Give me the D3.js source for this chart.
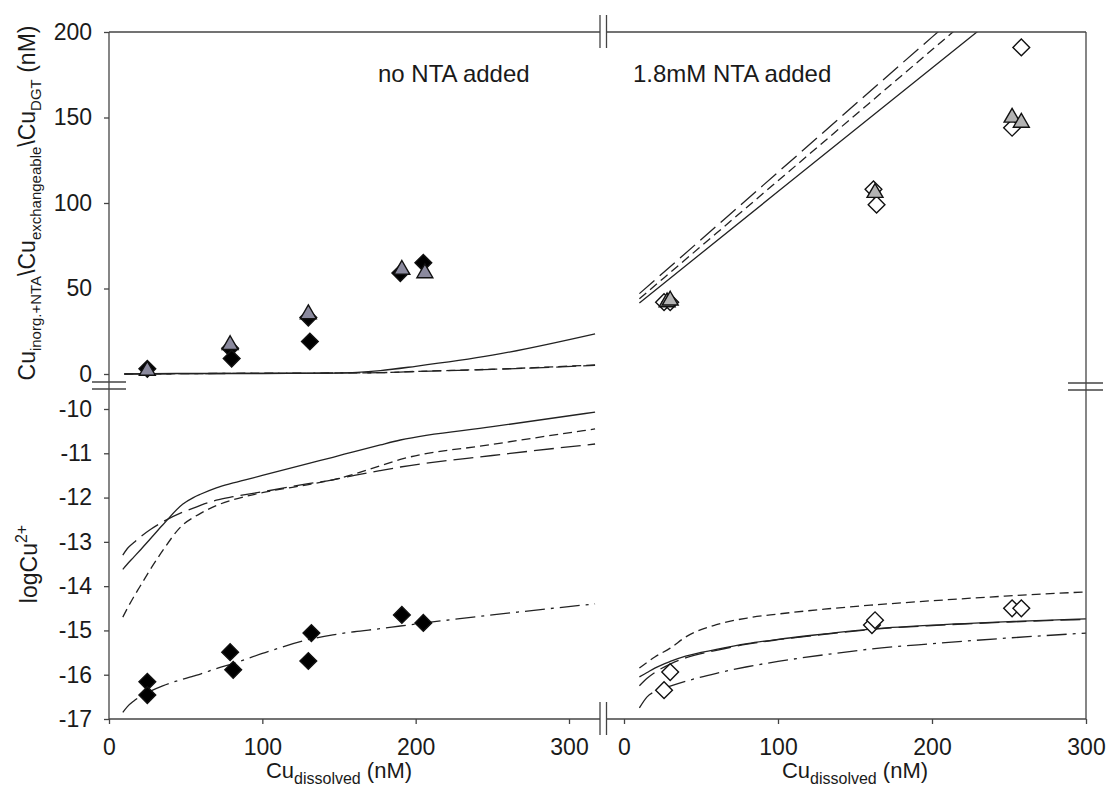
<!DOCTYPE html>
<meta charset="utf-8">
<style>
body { margin: 0; background: #fff; }
text { font-family: "Liberation Sans", Arial, sans-serif; fill: #1a1a1a; }
.tick line { stroke: #444; stroke-width: 1.3; }
.tick text { font-size: 23px; }
</style>
<body>
<script src="https://d3js.org/d3.v7.min.js"></script>
<script>

width = 1109;
height = 792;

// ---- top left panel (no NTA), Cu nM ----
tlLineX      = [10, 50, 100, 150, 177, 200, 250, 317];
tlSolid      = [0, 0.3, 0.3, 0.5, 2, 4.5, 11, 23.5];
tlShortDash  = [0, 0.2, 0.5, 0.6, 0.8, 1.5, 2.8, 5.3];
tlLongDash   = [0, 0.2, 0.4, 0.6, 0.8, 1.4, 2.7, 5.0];
tlDiamondX   = [25, 79, 80, 130, 131, 190, 205];
tlDiamondY   = [3, 15, 9, 33, 19, 59, 65];
tlTriangleX  = [25, 79, 130, 191, 206];
tlTriangleY  = [2, 17, 35, 61, 59];

// ---- top right panel (1.8mM NTA) ----
trLineX      = [10, 100, 200, 250];
trSolid      = [41.5, 106.7, 179, 215];
trShortDash  = [44, 113, 189.6, 228];
trLongDash   = [47, 118, 197, 236];
trDiamondX   = [26, 30, 162, 164, 252, 258];
trDiamondY   = [42, 42, 108, 99, 144, 191];
trTriangleX  = [28, 30, 163, 252, 258];
trTriangleY  = [42, 43, 106, 150, 147];

// ---- bottom left panel, logCu2+ ----
blLineX      = [9, 12, 16, 20, 27, 35, 48, 55, 60, 70, 81, 100, 131, 146, 160, 177, 190, 250, 317];
blSolid      = [-13.62, -13.5, -13.35, -13.2, -12.93, -12.62, -12.15, -12.0, -11.92, -11.78, -11.67, -11.5, -11.22, -11.09, -10.96, -10.81, -10.7, -10.4, -10.07];
blShortDash  = [-14.7, -14.5, -14.25, -14.02, -13.62, -13.2, -12.62, -12.45, -12.35, -12.18, -12.05, -11.89, -11.7, -11.6, -11.47, -11.28, -11.14, -10.8, -10.45];
blLongDash   = [-13.3, -13.15, -13.02, -12.9, -12.72, -12.55, -12.33, -12.24, -12.17, -12.06, -11.98, -11.87, -11.68, -11.6, -11.5, -11.39, -11.31, -11.05, -10.79];
blDashDot    = [-16.85, -16.72, -16.6, -16.5, -16.37, -16.25, -16.1, -16.03, -15.98, -15.86, -15.75, -15.52, -15.2, -15.1, -15.03, -14.96, -14.9, -14.65, -14.4];
blDiamondX   = [25, 25, 79, 81, 130, 132, 191, 205];
blDiamondY   = [-16.16, -16.46, -15.49, -15.89, -15.69, -15.06, -14.65, -14.83];

// ---- bottom right panel ----
brLineX      = [10, 15, 20, 30, 40, 60, 80, 100, 130, 160, 200, 250, 300];
brShortDash  = [-15.85, -15.72, -15.6, -15.4, -15.15, -14.87, -14.72, -14.63, -14.52, -14.43, -14.33, -14.22, -14.13];
brSolid      = [-16.05, -15.95, -15.85, -15.7, -15.58, -15.43, -15.3, -15.2, -15.08, -14.97, -14.88, -14.8, -14.74];
brLongDash   = [-16.25, -16.08, -15.95, -15.76, -15.62, -15.45, -15.31, -15.21, -15.09, -14.98, -14.89, -14.81, -14.75];
brDashDot    = [-16.75, -16.5, -16.38, -16.26, -16.15, -15.97, -15.82, -15.7, -15.55, -15.42, -15.3, -15.17, -15.06];
brDiamondX   = [26, 30, 161, 163, 252, 258];
brDiamondY   = [-16.35, -15.94, -14.88, -14.77, -14.5, -14.5];

xTicks = [0, 100, 200, 300];
topTicks = [0, 50, 100, 150, 200];
botTicks = [-17, -16, -15, -14, -13, -12, -11, -10];

// scales
xL = d3.scaleLinear([0, 300], [109, 569]);
xR = d3.scaleLinear([0, 300], [624, 1086]);
yTop = d3.scaleLinear([0, 200], [374, 32]);
yBot = d3.scaleLinear([-17, -10], [719, 409]);

dashes = { solid: null, short: "9,5", long: "20,7", dashdot: "20,6,3,6" };

svg = d3.select("body").append("svg")
    .attr("width", width)
    .attr("height", height);

svg.append("clipPath").attr("id", "clipTop")
  .append("rect").attr("x", 0).attr("y", yTop(200)).attr("width", width).attr("height", yTop(0) - yTop(200) + 10);

zip = (xs, ys) => xs.map((x, i) => [x, ys[i]]);

function drawLine(xs, ys, xs_, ys_, style, clip) {
  var line = d3.line().x(d => xs_(d[0])).y(d => ys_(d[1])).curve(d3.curveMonotoneX);
  svg.append("path")
    .attr("d", line(zip(xs, ys)))
    .attr("fill", "none")
    .attr("stroke", "#222")
    .attr("stroke-width", 1.3)
    .attr("stroke-dasharray", dashes[style])
    .attr("clip-path", clip ? "url(#clipTop)" : null);
}

// lines
drawLine(tlLineX, tlShortDash, xL, yTop, "short");
drawLine(tlLineX, tlLongDash, xL, yTop, "long");
drawLine(tlLineX, tlSolid, xL, yTop, "solid");

drawLine(trLineX, trLongDash, xR, yTop, "long", true);
drawLine(trLineX, trShortDash, xR, yTop, "short", true);
drawLine(trLineX, trSolid, xR, yTop, "solid", true);

drawLine(blLineX, blSolid, xL, yBot, "solid");
drawLine(blLineX, blShortDash, xL, yBot, "short");
drawLine(blLineX, blLongDash, xL, yBot, "long");
drawLine(blLineX, blDashDot, xL, yBot, "dashdot");

drawLine(brLineX, brShortDash, xR, yBot, "short");
drawLine(brLineX, brSolid, xR, yBot, "solid");
drawLine(brLineX, brLongDash, xR, yBot, "long");
drawLine(brLineX, brDashDot, xR, yBot, "dashdot");

// markers
diamond = d3.symbol().type(d3.symbolSquare).size(140);
triangle = d3.symbol().type(d3.symbolTriangle).size(110);

function drawDiamonds(xs, ys, xs_, ys_, fill) {
  svg.append("g").selectAll("path")
    .data(zip(xs, ys))
    .join("path")
      .attr("d", diamond)
      .attr("transform", d => `translate(${xs_(d[0])},${ys_(d[1])}) rotate(45)`)
      .attr("fill", fill)
      .attr("stroke", "#111")
      .attr("stroke-width", 1.4);
}
function drawTriangles(xs, ys, xs_, ys_, fill) {
  svg.append("g").selectAll("path")
    .data(zip(xs, ys))
    .join("path")
      .attr("d", triangle)
      .attr("transform", d => `translate(${xs_(d[0])},${ys_(d[1])})`)
      .attr("fill", fill)
      .attr("stroke", "#111")
      .attr("stroke-width", 1.4);
}

drawDiamonds(tlDiamondX, tlDiamondY, xL, yTop, "#000");
drawTriangles(tlTriangleX, tlTriangleY, xL, yTop, "#8b8a9e");
drawDiamonds(trDiamondX, trDiamondY, xR, yTop, "#fff");
drawTriangles(trTriangleX, trTriangleY, xR, yTop, "#b3b3b3");
drawDiamonds(blDiamondX, blDiamondY, xL, yBot, "#000");
drawDiamonds(brDiamondX, brDiamondY, xR, yBot, "#fff");

// frame with axis breaks
var frame = svg.append("g").attr("stroke", "#444").attr("stroke-width", 1.3).attr("fill", "none");
var brkX1 = 600, brkX2 = 606.5, brkY1 = 382, brkY2 = 389;
[
  [xL(0), yTop(200), xL(0), yBot(-17)],
  [xR(300), yTop(200), xR(300), yBot(-17)],
  [xL(0), yTop(200), brkX1, yTop(200)],
  [brkX2, yTop(200), xR(300), yTop(200)],
  [xL(0), yBot(-17), brkX1, yBot(-17)],
  [brkX2, yBot(-17), xR(300), yBot(-17)],
  [brkX1, yTop(200) - 17, brkX1, yTop(200) + 16],
  [brkX2, yTop(200) - 17, brkX2, yTop(200) + 16],
  [brkX1, yBot(-17) - 17, brkX1, yBot(-17) + 16],
  [brkX2, yBot(-17) - 17, brkX2, yBot(-17) + 16],
  [xL(0) - 17, brkY1, xL(0) + 17, brkY1],
  [xL(0) - 17, brkY2, xL(0) + 17, brkY2],
  [xR(300) - 18, brkY1 + 1, xR(300) + 17, brkY1 + 1],
  [xR(300) - 18, brkY2 + 1, xR(300) + 17, brkY2 + 1]
].forEach(s => frame.append("line")
  .attr("x1", s[0]).attr("y1", s[1]).attr("x2", s[2]).attr("y2", s[3]));

// axes
function axisG(axis, tx, ty) {
  var g = svg.append("g").attr("transform", `translate(${tx},${ty})`).call(axis);
  g.select(".domain").remove();
  return g;
}
axisG(d3.axisLeft(yTop).tickValues(topTicks).tickSize(5).tickPadding(12), xL(0), 0);
axisG(d3.axisLeft(yBot).tickValues(botTicks).tickSize(5).tickPadding(12).tickFormat(d => String(d)), xL(0), 0);
axisG(d3.axisBottom(xL).tickValues(xTicks).tickSize(5).tickPadding(15), 0, yBot(-17));
axisG(d3.axisBottom(xR).tickValues(xTicks).tickSize(5).tickPadding(15), 0, yBot(-17));

// annotations
svg.append("text").attr("x", 378).attr("y", 82).style("font-size", "24px").text("no NTA added");
svg.append("text").attr("x", 633).attr("y", 82).style("font-size", "24px").text("1.8mM NTA added");

// x titles
function xTitle(cx) {
  var t = svg.append("text").attr("x", cx).attr("y", 778).attr("text-anchor", "middle").style("font-size", "22px");
  t.append("tspan").text("Cu");
  t.append("tspan").attr("dy", 6).style("font-size", "16px").text("dissolved");
  t.append("tspan").attr("dy", -6).text(" (nM)");
}
xTitle((xL(0) + xL(300)) / 2);
xTitle((xR(0) + xR(300)) / 2);

// y titles
var yt = svg.append("text")
  .attr("transform", `translate(35,${(yTop(0) + yTop(200)) / 2}) rotate(-90)`)
  .attr("text-anchor", "middle").style("font-size", "23px");
yt.append("tspan").text("Cu");
yt.append("tspan").attr("dy", 6).style("font-size", "15px").text("inorg.+NTA");
yt.append("tspan").attr("dy", -6).text("\\Cu");
yt.append("tspan").attr("dy", 6).style("font-size", "15px").text("exchangeable");
yt.append("tspan").attr("dy", -6).text("\\Cu");
yt.append("tspan").attr("dy", 6).style("font-size", "15px").text("DGT");
yt.append("tspan").attr("dy", -6).text(" (nM)");

var yb = svg.append("text")
  .attr("transform", `translate(37,${(yBot(-17) + yBot(-10)) / 2}) rotate(-90)`)
  .attr("text-anchor", "middle").style("font-size", "23px");
yb.append("tspan").text("logCu");
yb.append("tspan").attr("dy", -10).style("font-size", "16px").text("2+");

</script>
